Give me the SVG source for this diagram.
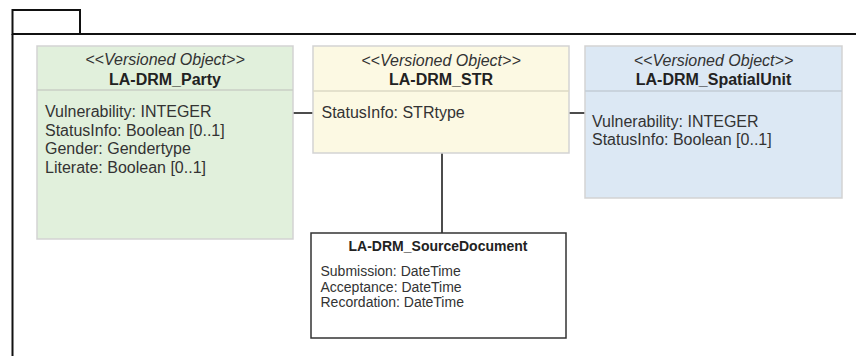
<svg xmlns="http://www.w3.org/2000/svg" width="856" height="356" viewBox="0 0 856 356">
<style>
.cls{stroke:#d3d3d3;stroke-width:1.5}
.sep{stroke:#c9cfc6;stroke-width:1.5}
.st{font-family:"Liberation Sans",Arial,sans-serif;font-size:16px;font-style:italic;fill:#333;text-anchor:middle}
.nm{font-family:"Liberation Sans",Arial,sans-serif;font-size:16px;font-weight:bold;fill:#222;text-anchor:middle}
.at{font-family:"Liberation Sans",Arial,sans-serif;font-size:16px;fill:#333}
.sm{font-family:"Liberation Sans",Arial,sans-serif;font-size:14px;fill:#333}
.smb{font-family:"Liberation Sans",Arial,sans-serif;font-size:14px;font-weight:bold;fill:#222;text-anchor:middle}
.con{stroke:#111;stroke-width:1.5;fill:none}
</style>
<rect width="856" height="356" fill="#ffffff"/>
<g id="package">
<rect x="12.5" y="10" width="67.5" height="24" fill="none" stroke="#111" stroke-width="2"/>
<path d="M12.5 34 H856 M12.5 34 V356" fill="none" stroke="#111" stroke-width="2"/>
</g>
<g id="connectors">
<line class="con" x1="293" y1="113" x2="313" y2="113"/>
<line class="con" x1="569" y1="113" x2="585" y2="113"/>
<line class="con" x1="442" y1="153" x2="442" y2="233"/>
</g>
<g id="party">
<rect class="cls" x="37" y="46" width="256" height="193" fill="#e1f0dc"/>
<line class="sep" x1="37" y1="90" x2="293" y2="90"/>
<text class="st" x="165" y="65">&lt;&lt;Versioned Object&gt;&gt;</text>
<text class="nm" x="165" y="85">LA-DRM_Party</text>
<text class="at" x="45" y="116.7">Vulnerability: INTEGER</text>
<text class="at" x="45" y="135.5">StatusInfo: Boolean [0..1]</text>
<text class="at" x="45" y="154">Gender: Gendertype</text>
<text class="at" x="45" y="172.7">Literate: Boolean [0..1]</text>
</g>
<g id="str">
<rect class="cls" x="313" y="46" width="256" height="107" fill="#fcf9e3"/>
<line class="sep" x1="313" y1="91" x2="569" y2="91" style="stroke:#dcd8c4"/>
<text class="st" x="441" y="65.5">&lt;&lt;Versioned Object&gt;&gt;</text>
<text class="nm" x="441" y="85">LA-DRM_STR</text>
<text class="at" x="321.5" y="118">StatusInfo: STRtype</text>
</g>
<g id="spatialunit">
<rect class="cls" x="585" y="46" width="257" height="152" fill="#dce8f4"/>
<line class="sep" x1="585" y1="91" x2="842" y2="91" style="stroke:#c3ccd6"/>
<text class="st" x="713.5" y="65.5">&lt;&lt;Versioned Object&gt;&gt;</text>
<text class="nm" x="713.5" y="85">LA-DRM_SpatialUnit</text>
<text class="at" x="592" y="126.7">Vulnerability: INTEGER</text>
<text class="at" x="592" y="145">StatusInfo: Boolean [0..1]</text>
</g>
<g id="sourcedocument">
<rect x="311" y="233" width="255" height="105" fill="#ffffff" stroke="#333" stroke-width="1.5"/>
<text class="smb" x="438" y="250.7">LA-DRM_SourceDocument</text>
<text class="sm" x="320.5" y="276">Submission: DateTime</text>
<text class="sm" x="320.5" y="291.6">Acceptance: DateTime</text>
<text class="sm" x="320.5" y="307.2">Recordation: DateTime</text>
</g>
</svg>
